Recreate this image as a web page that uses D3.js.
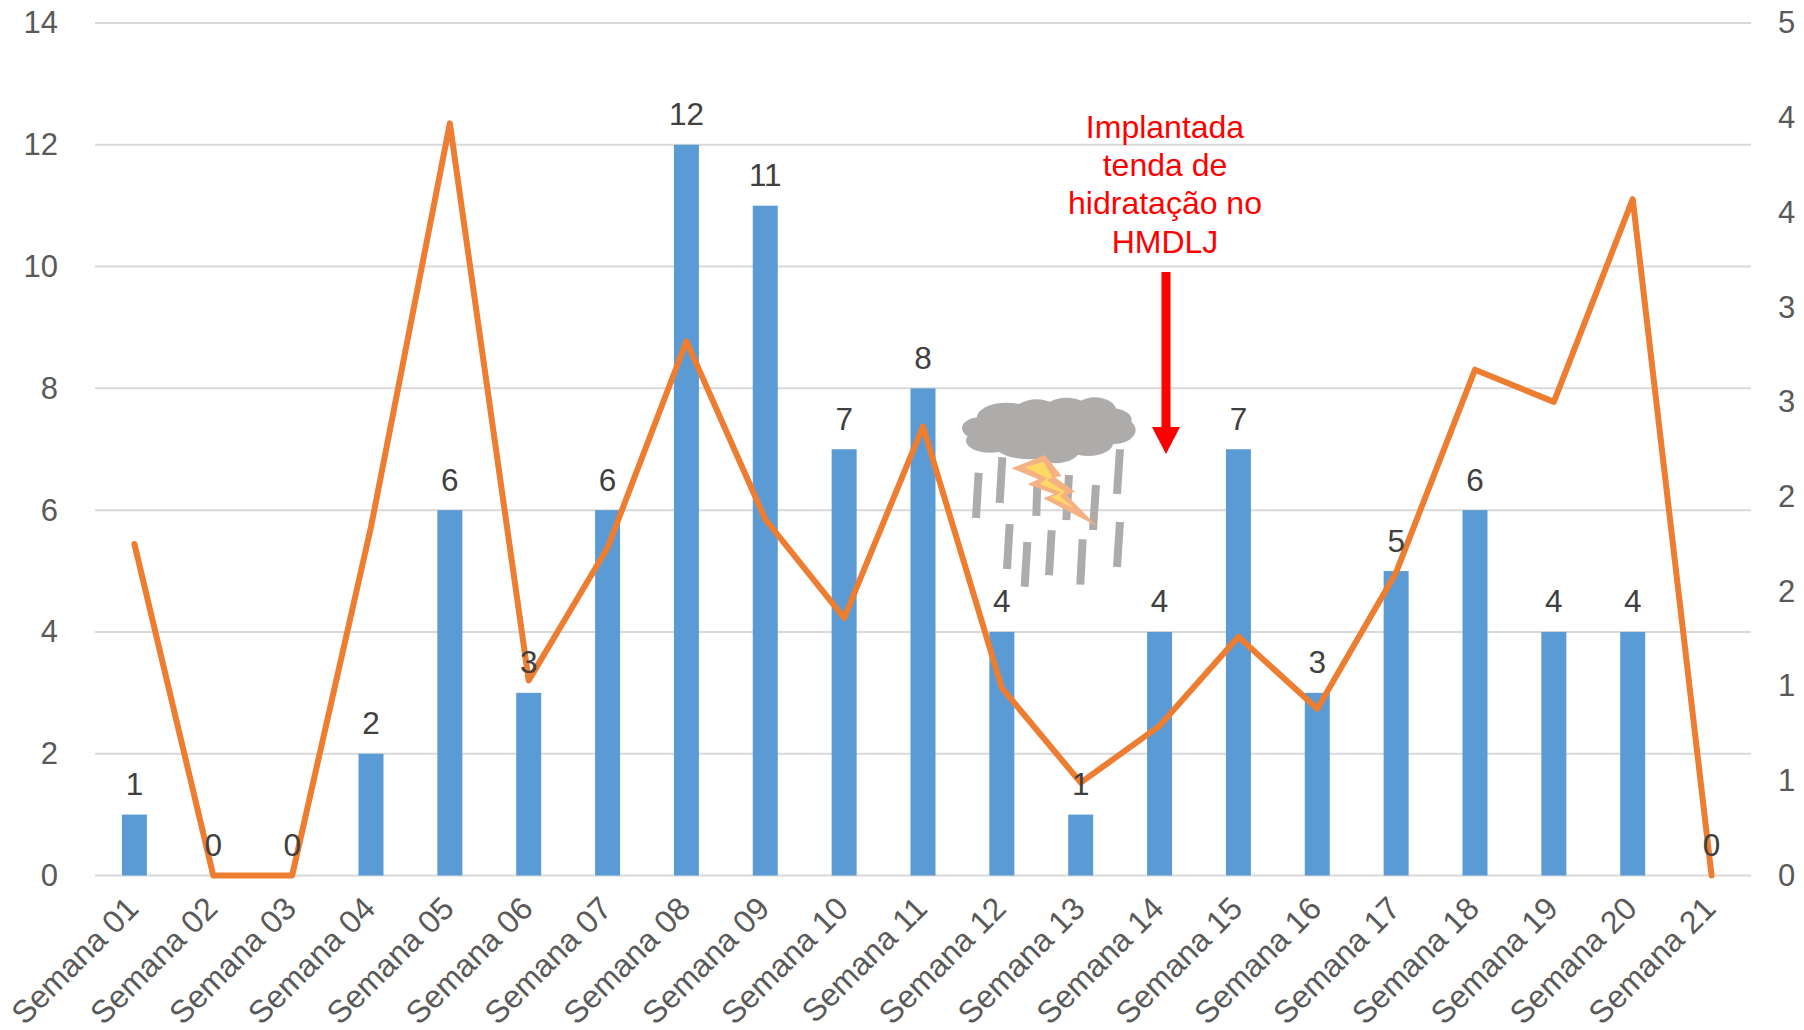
<!DOCTYPE html>
<html>
<head>
<meta charset="utf-8">
<script src="https://cdn.jsdelivr.net/npm/d3@7"></script>
<style>
  html, body { margin: 0; padding: 0; background: #fff; }
  svg { display: block; }
  text { font-family: "Liberation Sans", Arial, sans-serif; }
</style>
</head>
<body>
<div id="chart"></div>
<script>
const weeks = ["Semana 01","Semana 02","Semana 03","Semana 04","Semana 05","Semana 06","Semana 07",
               "Semana 08","Semana 09","Semana 10","Semana 11","Semana 12","Semana 13","Semana 14",
               "Semana 15","Semana 16","Semana 17","Semana 18","Semana 19","Semana 20","Semana 21"];
const barValues = [1,0,0,2,6,3,6,12,11,7,8,4,1,4,7,3,5,6,4,4,0];
const lineValues = [1.75,0,0,1.84,3.97,1.03,1.73,2.82,1.88,1.36,2.37,0.99,0.49,0.79,1.26,0.88,1.6,2.67,2.5,3.57,0];
const leftTicks = [0,2,4,6,8,10,12,14];
const rightTicks = [0,0.5,1,1.5,2,2.5,3,3.5,4,4.5];
const rightTickLabels = ["0","1","1","2","2","3","3","4","4","5"];
const noteLines = ["Implantada","tenda de","hidratação no","HMDLJ"];

const width = 1804, height = 1030;
const margin = {top: 23, right: 53, bottom: 154.5, left: 95};
const innerW = width - margin.left - margin.right;
const innerH = height - margin.top - margin.bottom;

const svg = d3.select("#chart").append("svg").attr("width", width).attr("height", height);
const g = svg.append("g").attr("transform", `translate(${margin.left},${margin.top})`);

const x = d3.scaleBand().domain(weeks).range([0, innerW]).paddingInner(0.683).paddingOuter(0.3415);
const yLeft = d3.scaleLinear().domain([0, 14]).range([innerH, 0]);
const yRight = d3.scaleLinear().domain([0, 4.5]).range([innerH, 0]);
const cx = d => x(d) + x.bandwidth() / 2;

// gridlines
g.selectAll(".grid").data(leftTicks).enter().append("line")
  .attr("class", "grid")
  .attr("x1", 0).attr("x2", innerW)
  .attr("y1", d => yLeft(d)).attr("y2", d => yLeft(d))
  .attr("stroke", "#d9d9d9").attr("stroke-width", 2);

// axes
const styleAxis = (sel) => {
  sel.select(".domain").remove();
  sel.selectAll(".tick line").remove();
  sel.selectAll("text").attr("fill", "#595959").style("font-size", "31px");
};
g.append("g")
  .call(d3.axisLeft(yLeft).tickValues(leftTicks).tickSize(0).tickPadding(37))
  .call(styleAxis);
g.append("g")
  .attr("transform", `translate(${innerW},0)`)
  .call(d3.axisRight(yRight).tickValues(rightTicks).tickSize(0).tickPadding(27)
    .tickFormat((d, i) => rightTickLabels[i]))
  .call(styleAxis);
const xAxis = g.append("g")
  .attr("transform", `translate(0,${innerH})`)
  .call(d3.axisBottom(x).tickSize(0).tickSizeOuter(0))
  .call(styleAxis);
xAxis.selectAll("text")
  .attr("text-anchor", "end")
  .attr("dy", 0).attr("y", 0)
  .attr("transform", "translate(6,35) rotate(-45)")
  .style("font-size", "32px");

// bars
g.selectAll(".bar").data(weeks).enter().append("rect")
  .attr("class", "bar")
  .attr("x", d => x(d))
  .attr("width", x.bandwidth())
  .attr("y", (d, i) => yLeft(barValues[i]))
  .attr("height", (d, i) => innerH - yLeft(barValues[i]))
  .attr("fill", "#5b9bd5");

// line
const line = d3.line().x(d => cx(d)).y((d, i) => yRight(lineValues[i]));
g.append("path").datum(weeks)
  .attr("d", line)
  .attr("fill", "none")
  .attr("stroke", "#ed7d31")
  .attr("stroke-width", 6)
  .attr("stroke-linejoin", "round")
  .attr("stroke-linecap", "round");

// data labels
g.selectAll(".bar-label").data(weeks).enter().append("text")
  .attr("class", "bar-label")
  .attr("x", d => cx(d))
  .attr("y", (d, i) => yLeft(barValues[i]) - 19.5)
  .attr("text-anchor", "middle")
  .attr("fill", "#404040")
  .style("font-size", "31.5px")
  .text((d, i) => barValues[i]);

// storm icon, drawn in a 3x grid
const iconGrid = svg.append("g").attr("transform", "translate(930,370) scale(0.3333)");
const rain = [[146,308,138,444],[217,262,209,399],[322,340,319,438],[417,315,409,450],[498,345,489,480],
              [570,238,561,372],[239,462,231,597],[292,516,284,650],[365,481,357,616],[458,508,451,644],[570,456,561,591]];
iconGrid.selectAll(".rain").data(rain).enter().append("line")
  .attr("class", "rain")
  .attr("x1", d => d[0]).attr("y1", d => d[1]).attr("x2", d => d[2]).attr("y2", d => d[3])
  .attr("stroke", "#aeabab").attr("stroke-width", 24);
const cloud = [[230,145,90,47],[320,130,70,42],[410,125,70,42],[495,125,65,43],[545,150,60,35],[150,175,54,33],
               [550,180,67,42],[180,212,72,36],[300,220,110,48],[375,232,78,48],[475,218,75,40],[350,170,170,65]];
iconGrid.selectAll(".cloud").data(cloud).enter().append("ellipse")
  .attr("class", "cloud")
  .attr("cx", d => d[0]).attr("cy", d => d[1]).attr("rx", d => d[2]).attr("ry", d => d[3])
  .attr("fill", "#aeabab");
iconGrid.append("polygon")
  .attr("points", "245,295 345,255 395,318 375,322 435,365 410,375 500,468 340,385 372,372 293,343 325,328")
  .attr("fill", "#f4b183");
iconGrid.append("polygon")
  .attr("points", "285,292 340,275 368,322 350,330 405,365 390,378 432,415 362,382 395,368 330,342 352,325")
  .attr("fill", "#ffd966");

// annotation
const note = svg.append("text").attr("text-anchor", "middle").attr("fill", "#ff0000").style("font-size", "32px");
note.selectAll("tspan").data(noteLines).enter().append("tspan")
  .attr("x", 1165)
  .attr("y", (d, i) => 137.5 + i * 38.4)
  .text(d => d);
svg.append("rect").attr("x", 1161.5).attr("y", 272).attr("width", 9).attr("height", 156).attr("fill", "#ff0000");
svg.append("polygon").attr("points", "1152,427 1180,427 1166,454").attr("fill", "#ff0000");
</script>
</body>
</html>
